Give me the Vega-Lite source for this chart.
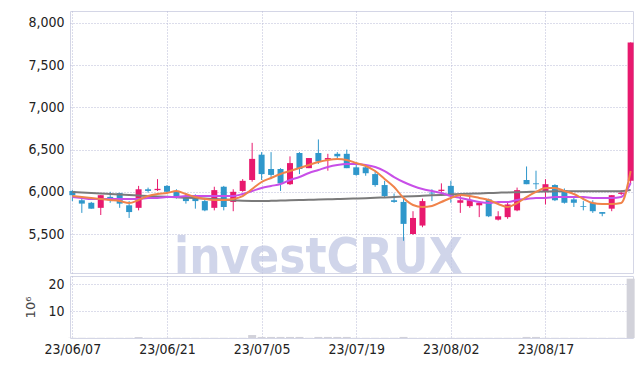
{
  "$schema": "https://vega.github.io/schema/vega-lite/v6.json",
  "background": "white",
  "padding": {"left": 24, "top": 10, "right": 10, "bottom": 5},
  "spacing": 3,
  "bounds": "flush",
  "config": {
    "view": {"stroke": "#d4d6e6"},
    "axis": {
      "labelFont": "DejaVu Sans Condensed, Noto Sans Condensed, sans-serif",
      "labelFontSize": 14,
      "labelColor": "#222222",
      "gridColor": "#b9bbd6",
      "gridDash": [1, 2],
      "domain": false,
      "ticks": false
    }
  },
  "datasets": {
    "k": [
      {"d":"23/06/07","o":6010,"h":6020,"l":5890,"c":5960,"dir":"down","v":0.08,"m5":5950,"m10":5938,"m60":5998},
      {"d":"23/06/08","o":5900,"h":5920,"l":5750,"c":5860,"dir":"down","v":0.08,"m5":5938,"m10":5927,"m60":5992},
      {"d":"23/06/09","o":5870,"h":5880,"l":5800,"c":5800,"dir":"down","v":0.08,"m5":5927,"m10":5915,"m60":5986},
      {"d":"23/06/12","o":5810,"h":5960,"l":5725,"c":5960,"dir":"up","v":0.08,"m5":5915,"m10":5915,"m60":5980},
      {"d":"23/06/13","o":5940,"h":6000,"l":5870,"c":5900,"dir":"down","v":0.08,"m5":5903,"m10":5915,"m60":5974},
      {"d":"23/06/14","o":5985,"h":5990,"l":5810,"c":5860,"dir":"down","v":0.08,"m5":5891,"m10":5915,"m60":5968},
      {"d":"23/06/15","o":5840,"h":5890,"l":5690,"c":5760,"dir":"down","v":0.08,"m5":5867,"m10":5915,"m60":5962},
      {"d":"23/06/16","o":5810,"h":6070,"l":5780,"c":6030,"dir":"up","v":0.35,"m5":5903,"m10":5915,"m60":5956},
      {"d":"23/06/19","o":6030,"h":6050,"l":5990,"c":6010,"dir":"down","v":0.08,"m5":5950,"m10":5927,"m60":5950},
      {"d":"23/06/20","o":6020,"h":6150,"l":6010,"c":6035,"dir":"up","v":0.08,"m5":5974,"m10":5927,"m60":5945},
      {"d":"23/06/21","o":6070,"h":6080,"l":5990,"c":6000,"dir":"down","v":0.08,"m5":5986,"m10":5938,"m60":5940},
      {"d":"23/06/22","o":6010,"h":6030,"l":5920,"c":5940,"dir":"down","v":0.08,"m5":6009,"m10":5938,"m60":5935},
      {"d":"23/06/23","o":5930,"h":5980,"l":5860,"c":5890,"dir":"down","v":0.08,"m5":5974,"m10":5950,"m60":5930},
      {"d":"23/06/26","o":5960,"h":5970,"l":5800,"c":5890,"dir":"down","v":0.08,"m5":5938,"m10":5950,"m60":5925},
      {"d":"23/06/27","o":5890,"h":5920,"l":5770,"c":5780,"dir":"down","v":0.08,"m5":5915,"m10":5950,"m60":5920},
      {"d":"23/06/28","o":5810,"h":6060,"l":5780,"c":6020,"dir":"up","v":0.08,"m5":5903,"m10":5950,"m60":5915},
      {"d":"23/06/29","o":6060,"h":6070,"l":5780,"c":5820,"dir":"down","v":0.08,"m5":5903,"m10":5950,"m60":5908},
      {"d":"23/06/30","o":5880,"h":6030,"l":5770,"c":6000,"dir":"up","v":0.08,"m5":5915,"m10":5950,"m60":5900},
      {"d":"23/07/03","o":6010,"h":6150,"l":6000,"c":6130,"dir":"up","v":0.08,"m5":5950,"m10":5974,"m60":5895},
      {"d":"23/07/04","o":6140,"h":6580,"l":6120,"c":6390,"dir":"up","v":1.1,"m5":6033,"m10":6009,"m60":5892},
      {"d":"23/07/05","o":6440,"h":6470,"l":6140,"c":6210,"dir":"down","v":0.4,"m5":6116,"m10":6045,"m60":5891},
      {"d":"23/07/06","o":6270,"h":6470,"l":6150,"c":6200,"dir":"down","v":0.4,"m5":6164,"m10":6069,"m60":5893},
      {"d":"23/07/07","o":6270,"h":6280,"l":6010,"c":6100,"dir":"down","v":0.4,"m5":6211,"m10":6092,"m60":5896},
      {"d":"23/07/10","o":6090,"h":6420,"l":6080,"c":6340,"dir":"up","v":0.4,"m5":6246,"m10":6140,"m60":5899},
      {"d":"23/07/11","o":6460,"h":6470,"l":6210,"c":6270,"dir":"down","v":0.4,"m5":6282,"m10":6175,"m60":5902},
      {"d":"23/07/12","o":6280,"h":6400,"l":6280,"c":6400,"dir":"up","v":0.08,"m5":6318,"m10":6223,"m60":5905},
      {"d":"23/07/13","o":6460,"h":6620,"l":6330,"c":6360,"dir":"down","v":0.4,"m5":6353,"m10":6258,"m60":5908},
      {"d":"23/07/14","o":6380,"h":6450,"l":6250,"c":6400,"dir":"up","v":0.4,"m5":6377,"m10":6294,"m60":5911},
      {"d":"23/07/17","o":6450,"h":6470,"l":6380,"c":6420,"dir":"down","v":0.4,"m5":6389,"m10":6318,"m60":5914},
      {"d":"23/07/18","o":6450,"h":6500,"l":6280,"c":6280,"dir":"down","v":0.4,"m5":6377,"m10":6329,"m60":5917},
      {"d":"23/07/19","o":6290,"h":6330,"l":6190,"c":6200,"dir":"down","v":0.08,"m5":6341,"m10":6329,"m60":5921},
      {"d":"23/07/20","o":6290,"h":6310,"l":6190,"c":6220,"dir":"down","v":0.08,"m5":6306,"m10":6318,"m60":5925},
      {"d":"23/07/21","o":6210,"h":6250,"l":6060,"c":6080,"dir":"down","v":0.08,"m5":6246,"m10":6294,"m60":5929},
      {"d":"23/07/24","o":6080,"h":6130,"l":5930,"c":5950,"dir":"down","v":0.08,"m5":6152,"m10":6246,"m60":5933},
      {"d":"23/07/25","o":5900,"h":5980,"l":5870,"c":5880,"dir":"down","v":0.08,"m5":6057,"m10":6175,"m60":5938},
      {"d":"23/07/26","o":5880,"h":5930,"l":5420,"c":5620,"dir":"down","v":0.4,"m5":5927,"m10":6116,"m60":5943},
      {"d":"23/07/27","o":5500,"h":5770,"l":5490,"c":5690,"dir":"up","v":0.08,"m5":5844,"m10":6069,"m60":5948},
      {"d":"23/07/28","o":5600,"h":5920,"l":5580,"c":5890,"dir":"up","v":0.08,"m5":5820,"m10":6033,"m60":5953},
      {"d":"23/07/31","o":5990,"h":6030,"l":5890,"c":5980,"dir":"down","v":0.08,"m5":5832,"m10":6009,"m60":5958},
      {"d":"23/08/01","o":6010,"h":6100,"l":5950,"c":6025,"dir":"up","v":0.08,"m5":5879,"m10":5986,"m60":5963},
      {"d":"23/08/02","o":6070,"h":6130,"l":5870,"c":5950,"dir":"down","v":0.08,"m5":5927,"m10":5950,"m60":5968},
      {"d":"23/08/03","o":5870,"h":5950,"l":5750,"c":5900,"dir":"up","v":0.08,"m5":5962,"m10":5927,"m60":5973},
      {"d":"23/08/04","o":5830,"h":5950,"l":5810,"c":5900,"dir":"up","v":0.08,"m5":5950,"m10":5903,"m60":5977},
      {"d":"23/08/07","o":5840,"h":5890,"l":5700,"c":5870,"dir":"up","v":0.08,"m5":5927,"m10":5879,"m60":5981},
      {"d":"23/08/08","o":5910,"h":5920,"l":5700,"c":5710,"dir":"down","v":0.08,"m5":5903,"m10":5867,"m60":5985},
      {"d":"23/08/09","o":5670,"h":5770,"l":5660,"c":5710,"dir":"up","v":0.08,"m5":5855,"m10":5879,"m60":5989},
      {"d":"23/08/10","o":5700,"h":5870,"l":5680,"c":5850,"dir":"up","v":0.08,"m5":5820,"m10":5879,"m60":5993},
      {"d":"23/08/11","o":5780,"h":6050,"l":5770,"c":6020,"dir":"up","v":0.08,"m5":5867,"m10":5903,"m60":5996},
      {"d":"23/08/14","o":6140,"h":6300,"l":6090,"c":6090,"dir":"down","v":0.4,"m5":5938,"m10":5915,"m60":5999},
      {"d":"23/08/16","o":6100,"h":6250,"l":6030,"c":6090,"dir":"down","v":0.4,"m5":5998,"m10":5927,"m60":6002},
      {"d":"23/08/17","o":6000,"h":6150,"l":5850,"c":6090,"dir":"up","v":0.08,"m5":6045,"m10":5927,"m60":6004},
      {"d":"23/08/18","o":6080,"h":6090,"l":5890,"c":5900,"dir":"down","v":0.08,"m5":6045,"m10":5938,"m60":6006},
      {"d":"23/08/21","o":6020,"h":6040,"l":5860,"c":5870,"dir":"down","v":0.08,"m5":6009,"m10":5938,"m60":6007},
      {"d":"23/08/22","o":5910,"h":5930,"l":5820,"c":5870,"dir":"down","v":0.08,"m5":5974,"m10":5938,"m60":6008},
      {"d":"23/08/23","o":5830,"h":5890,"l":5780,"c":5820,"dir":"down","v":0.08,"m5":5915,"m10":5938,"m60":6008},
      {"d":"23/08/24","o":5870,"h":5900,"l":5750,"c":5770,"dir":"down","v":0.08,"m5":5867,"m10":5927,"m60":6008},
      {"d":"23/08/25","o":5760,"h":5760,"l":5710,"c":5740,"dir":"down","v":0.08,"m5":5855,"m10":5927,"m60":6008},
      {"d":"23/08/28","o":5800,"h":5960,"l":5770,"c":5960,"dir":"up","v":0.08,"m5":5855,"m10":5927,"m60":6008},
      {"d":"23/08/29","o":5975,"h":6020,"l":5960,"c":5990,"dir":"up","v":0.08,"m5":5867,"m10":5938,"m60":6008},
      {"d":"23/08/30","o":6130,"h":7770,"l":6100,"c":7770,"dir":"up","v":22,"m5":6246,"m10":6104,"m60":6020}
    ],
    "wm": [{"t": "investCRUX", "d": "23/07/13", "p": 5040}]
  },
  "vconcat": [
    {
      "width": 563,
      "height": 262,
      "encoding": {
        "x": {
          "field": "d",
          "type": "ordinal",
          "scale": {"type": "point", "padding": 0.25},
          "axis": {"labels": false, "title": null, "grid": true, "values": ["23/06/07","23/06/21","23/07/05","23/07/19","23/08/02","23/08/17"]}
        }
      },
      "layer": [
        {
          "data": {"name": "wm"},
          "mark": {"type": "text", "clip": true, "font": "DejaVu Sans Condensed, Noto Sans Condensed, sans-serif", "fontWeight": "bold", "fontSize": 49, "color": "#c1c7e3", "opacity": 0.75, "align": "center", "baseline": "alphabetic"},
          "encoding": {
            "text": {"field": "t"},
            "y": {"field": "p", "type": "quantitative", "scale": {"domain": [5038, 8142], "nice": false, "zero": false}, "axis": {"title": null, "values": [5500, 6000, 6500, 7000, 7500, 8000], "format": ",.0f", "grid": true, "labelPadding": 6}}
          }
        },
        {
          "data": {"name": "k"},
          "mark": {"type": "rule", "strokeWidth": 1},
          "encoding": {
            "y": {"field": "l", "type": "quantitative"},
            "y2": {"field": "h"},
            "color": {"field": "dir", "type": "nominal", "scale": {"domain": ["up", "down"], "range": ["#e8196e", "#2f97cb"]}, "legend": null}
          }
        },
        {
          "data": {"name": "k"},
          "mark": {"type": "bar", "size": 6},
          "encoding": {
            "y": {"field": "o", "type": "quantitative"},
            "y2": {"field": "c"},
            "color": {"field": "dir", "type": "nominal", "legend": null}
          }
        },
        {
          "data": {"name": "k"},
          "mark": {"type": "line", "color": "#7a7a7a", "strokeWidth": 2, "interpolate": "monotone"},
          "encoding": {"y": {"field": "m60", "type": "quantitative"}}
        },
        {
          "data": {"name": "k"},
          "mark": {"type": "line", "color": "#c84fe8", "strokeWidth": 2, "interpolate": "monotone"},
          "encoding": {"y": {"field": "m10", "type": "quantitative"}}
        },
        {
          "data": {"name": "k"},
          "mark": {"type": "line", "color": "#f0834a", "strokeWidth": 2, "interpolate": "monotone"},
          "encoding": {"y": {"field": "m5", "type": "quantitative"}}
        }
      ]
    },
    {
      "width": 563,
      "height": 62,
      "data": {"name": "k"},
      "mark": {"type": "bar", "size": 8, "color": "#d2d2da"},
      "encoding": {
        "x": {
          "field": "d",
          "type": "ordinal",
          "scale": {"type": "point", "padding": 0.25},
          "axis": {"title": null, "labelAngle": 0, "labelPadding": 4, "grid": true, "values": ["23/06/07","23/06/21","23/07/05","23/07/19","23/08/02","23/08/17"]}
        },
        "y": {
          "field": "v",
          "type": "quantitative",
          "scale": {"domain": [0, 23], "nice": false},
          "axis": {"title": "10⁶", "titleFont": "DejaVu Sans", "titleFontWeight": "normal", "titleFontSize": 13, "titleColor": "#444444", "titlePadding": 10, "values": [10, 20], "grid": true, "labelPadding": 6}
        }
      }
    }
  ]
}
